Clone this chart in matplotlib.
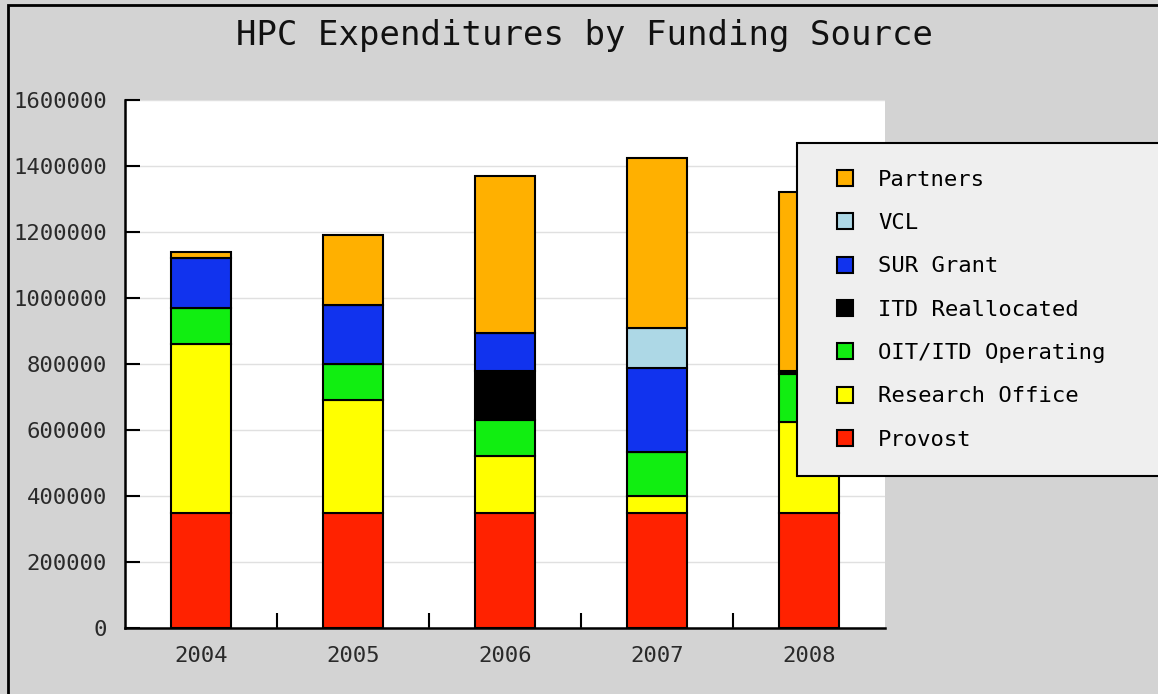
import matplotlib.pyplot as plt
from matplotlib.lines import Line2D
from matplotlib.patches import Rectangle

years = ['2004', '2005', '2006', '2007', '2008']
sources = ['Provost', 'Research Office', 'OIT/ITD Operating', 'ITD Reallocated',
           'SUR Grant', 'VCL', 'Partners']
provost = [350000, 350000, 350000, 350000, 350000]
research = [510000, 340000, 170000, 50000, 275000]
oit_itd = [110000, 110000, 110000, 133000, 145000]
itd_realloc = [0, 0, 150000, 0, 8000]
sur_grant = [150000, 180000, 115000, 254000, 0]
vcl = [0, 0, 0, 123000, 0]
partners = [20000, 210000, 475000, 515000, 544000]
yticks = [0, 200000, 400000, 600000, 800000, 1000000, 1200000, 1400000, 1600000]

series = [provost, research, oit_itd, itd_realloc, sur_grant, vcl, partners]
colores = ['#ff2200', '#ffff00', '#11ee11', '#000000', '#1133ee', '#add8e6', '#ffb000']

FONT = 'DejaVu Sans Mono'
FONDO = '#d3d3d3'

fig = plt.figure(figsize=(11.58, 6.94), dpi=100, facecolor=FONDO)
ax = fig.add_axes([125/1158, 66/694, 760/1158, 528/694])
ax.set_facecolor('white')

x = range(len(years))
base = [0] * len(years)
for valores, color, nombre in zip(series, colores, sources):
    ax.bar(x, valores, bottom=base, width=0.395, color=color,
           edgecolor='black', linewidth=1.5, label=nombre, zorder=3)
    base = [a + v for a, v in zip(base, valores)]

ax.set_xlim(-0.5, 4.5)
ax.set_ylim(0, 1600000)
ax.set_yticks(yticks)
ax.set_yticklabels([str(v) for v in yticks], fontfamily=FONT, fontsize=16, color='#2a2a2a')
ax.set_xticks(list(x))
ax.set_xticklabels(years, fontfamily=FONT, fontsize=16, color='#2a2a2a')
ax.tick_params(axis='x', length=0, pad=13)
ax.tick_params(axis='y', length=11, width=1.5, direction='in', pad=13)
# marcas entre categorias
ax.set_xticks([0.5, 1.5, 2.5, 3.5], minor=True)
ax.tick_params(axis='x', which='minor', length=11, width=1.5, direction='in')
ax.grid(axis='y', color='#e0e0e0', linewidth=1, zorder=0)
for lado in ['top', 'right']:
    ax.spines[lado].set_visible(False)
for lado in ['left', 'bottom']:
    ax.spines[lado].set_linewidth(1.8)

fig.text(0.505, 1 - 35/694, 'HPC Expenditures by Funding Source', ha='center', va='center',
         fontfamily=FONT, fontsize=24.5, color='#111111')

handles = [Line2D([], [], linestyle='none', marker='s', markersize=12, markerfacecolor=c,
                  markeredgecolor='black', markeredgewidth=1.5) for c in colores][::-1]
leg = fig.legend(handles, sources[::-1], loc='upper left',
                 bbox_to_anchor=(797/1158, (694-476)/694, 380/1158, 333/694),
                 mode='expand', borderaxespad=0, frameon=True, fancybox=False,
                 prop={'family': FONT, 'size': 16}, labelspacing=1.05,
                 handlelength=1.94, handletextpad=0.5,
                 borderpad=1.2, edgecolor='black', facecolor='#efefef', framealpha=1)
leg.get_frame().set_linewidth(1.5)
leg.set_zorder(10)

# borde negro de la figura
fig.patches.append(Rectangle((8/1158, -0.01), 1.1, 1.01 - 5/694, transform=fig.transFigure,
                             fill=False, edgecolor='black', linewidth=2))

fig.savefig('out.png', dpi=100, facecolor=FONDO)
